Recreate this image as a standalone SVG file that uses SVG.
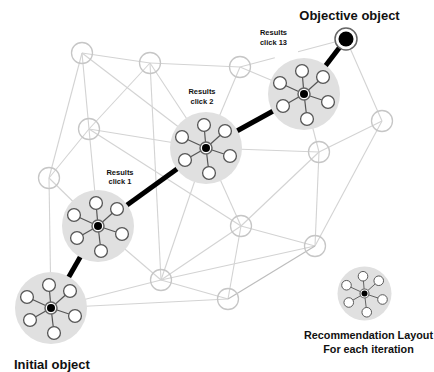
<svg xmlns="http://www.w3.org/2000/svg" xmlns:xlink="http://www.w3.org/1999/xlink" width="434" height="372" viewBox="0 0 434 372">
  <style>
    .edge { stroke: #d3d3d3; stroke-width: 1.1; fill: none; }
    .edge-dark { stroke: #bdbdbd; stroke-width: 1.2; fill: none; }
    .path { stroke: #000; stroke-width: 5; fill: none; }
    .node { fill: none; stroke: #c6c6c6; stroke-width: 1.3; }
    .disc { fill: #e0e0e0; }
    .spoke { stroke: #555; stroke-width: 1.2; }
    .sat { fill: #fff; stroke: #555; stroke-width: 1.3; }
    .ring { fill: #fff; stroke: #666; stroke-width: 1.5; }
    .core { fill: #000; }
    .lbl { font-family: "Liberation Sans", Arial, sans-serif; font-weight: bold; fill: #111; text-anchor: middle; }
    .small { font-size: 7.5px; }
    .big { font-size: 13px; }
    .mid { font-size: 10.8px; }
  </style>
  <defs>
    <g id="cluster">
      <circle class="disc" cx="0" cy="0" r="36"/>
      <line class="spoke" x1="0" y1="0" x2="-2" y2="-23"/>
      <line class="spoke" x1="0" y1="0" x2="19" y2="-17"/>
      <line class="spoke" x1="0" y1="0" x2="24" y2="8"/>
      <line class="spoke" x1="0" y1="0" x2="3" y2="25"/>
      <line class="spoke" x1="0" y1="0" x2="-21" y2="12"/>
      <line class="spoke" x1="0" y1="0" x2="-24" y2="-11"/>
      <circle class="sat" cx="-2" cy="-23" r="6.4"/>
      <circle class="sat" cx="19" cy="-17" r="6.4"/>
      <circle class="sat" cx="24" cy="8" r="6.4"/>
      <circle class="sat" cx="3" cy="25" r="6.4"/>
      <circle class="sat" cx="-21" cy="12" r="6.4"/>
      <circle class="sat" cx="-24" cy="-11" r="6.4"/>
      <circle class="ring" cx="0" cy="0" r="6"/>
      <circle class="core" cx="0" cy="0" r="4"/>
    </g>
  </defs>
  <rect width="434" height="372" fill="#fff"/>
  <g id="connectors">
    <line class="edge" x1="82" y1="53" x2="150" y2="63"/>
    <line class="edge" x1="82" y1="53" x2="49" y2="178"/>
    <line class="edge" x1="82" y1="53" x2="89" y2="129"/>
    <line class="edge" x1="82" y1="53" x2="206" y2="148"/>
    <line class="edge" x1="150" y1="63" x2="240" y2="67"/>
    <line class="edge" x1="150" y1="63" x2="89" y2="129"/>
    <line class="edge" x1="150" y1="63" x2="161" y2="280"/>
    <line class="edge" x1="150" y1="63" x2="206" y2="148"/>
    <line class="edge" x1="89" y1="129" x2="206" y2="148"/>
    <line class="edge" x1="89" y1="129" x2="49" y2="178"/>
    <line class="edge" x1="89" y1="129" x2="98" y2="226"/>
    <line class="edge" x1="89" y1="129" x2="241" y2="226"/>
    <line class="edge" x1="49" y1="178" x2="51" y2="308"/>
    <line class="edge" x1="49" y1="178" x2="98" y2="226"/>
    <line class="edge" x1="240" y1="67" x2="206" y2="148"/>
    <line class="edge" x1="240" y1="67" x2="304" y2="94"/>
    <line class="edge" x1="240" y1="67" x2="346" y2="39" stroke-dasharray="36 24 60"/>
    <line class="edge" x1="346" y1="39" x2="382" y2="121"/>
    <line class="edge" x1="382" y1="121" x2="319" y2="152"/>
    <line class="edge" x1="382" y1="121" x2="315" y2="246"/>
    <line class="edge" x1="319" y1="152" x2="304" y2="94"/>
    <line class="edge" x1="319" y1="152" x2="206" y2="148"/>
    <line class="edge" x1="319" y1="152" x2="241" y2="226"/>
    <line class="edge" x1="319" y1="152" x2="315" y2="246"/>
    <line class="edge" x1="241" y1="226" x2="206" y2="148"/>
    <line class="edge" x1="241" y1="226" x2="315" y2="246"/>
    <line class="edge" x1="241" y1="226" x2="228" y2="299"/>
    <line class="edge" x1="241" y1="226" x2="161" y2="280"/>
    <line class="edge" x1="161" y1="280" x2="206" y2="148"/>
    <line class="edge" x1="161" y1="280" x2="98" y2="226"/>
    <line class="edge" x1="161" y1="280" x2="51" y2="308"/>
    <line class="edge" x1="161" y1="280" x2="228" y2="299"/>
    <line class="edge" x1="161" y1="280" x2="315" y2="246"/>
    <line class="edge" x1="51" y1="308" x2="228" y2="299"/>
    <line class="edge-dark" x1="228" y1="299" x2="315" y2="246"/>
    <line class="path" x1="51" y1="308" x2="98" y2="226"/>
    <line class="path" x1="98" y1="226" x2="206" y2="148"/>
    <line class="path" x1="206" y1="148" x2="304" y2="94"/>
    <line class="path" x1="304" y1="94" x2="346" y2="39"/>
  </g>
  <g id="node-a"><circle class="node" cx="82" cy="53" r="10.5"/></g>
  <g id="node-b"><circle class="node" cx="150" cy="63" r="10.5"/></g>
  <g id="node-c"><circle class="node" cx="89" cy="129" r="10.5"/></g>
  <g id="node-d"><circle class="node" cx="49" cy="178" r="10.5"/></g>
  <g id="node-e"><circle class="node" cx="240" cy="67" r="10.5"/></g>
  <g id="node-f"><circle class="node" cx="382" cy="121" r="10.5"/></g>
  <g id="node-g"><circle class="node" cx="319" cy="152" r="10.5"/></g>
  <g id="node-h"><circle class="node" cx="241" cy="226" r="10.5"/></g>
  <g id="node-i"><circle class="node" cx="315" cy="246" r="10.5"/></g>
  <g id="node-j"><circle class="node" cx="228" cy="299" r="10.5"/></g>
  <g id="node-k"><circle class="node" cx="161" cy="280" r="10.5"/></g>
  <g id="initial"><use xlink:href="#cluster" href="#cluster" transform="translate(51,308)"/></g>
  <g id="click1"><use xlink:href="#cluster" href="#cluster" transform="translate(98,226)"/></g>
  <g id="click2"><use xlink:href="#cluster" href="#cluster" transform="translate(206,148)"/></g>
  <g id="click13"><use xlink:href="#cluster" href="#cluster" transform="translate(304,94)"/></g>
  <g id="legend"><use xlink:href="#cluster" href="#cluster" transform="translate(364.5,293.5) scale(0.75)"/></g>
  <g id="objective">
    <circle cx="346" cy="39" r="11" fill="#fff" stroke="#666" stroke-width="1.5"/>
    <circle cx="346" cy="39" r="7.5" fill="#000"/>
  </g>
  <g id="labels">
    <text class="lbl big" x="349.5" y="20">Objective object</text>
    <text class="lbl big" x="14" y="369" text-anchor="start" style="text-anchor:start">Initial object</text>
    <text class="lbl mid" x="368.5" y="339">Recommendation Layout</text>
    <text class="lbl mid" x="368.5" y="353">For each iteration</text>
    <text class="lbl small" x="120" y="174.5">Results</text>
    <text class="lbl small" x="120" y="184">click 1</text>
    <text class="lbl small" x="202" y="94">Results</text>
    <text class="lbl small" x="202" y="103.5">click 2</text>
    <text class="lbl small" x="273.5" y="35">Results</text>
    <text class="lbl small" x="273.5" y="44.5">click 13</text>
  </g>
</svg>
